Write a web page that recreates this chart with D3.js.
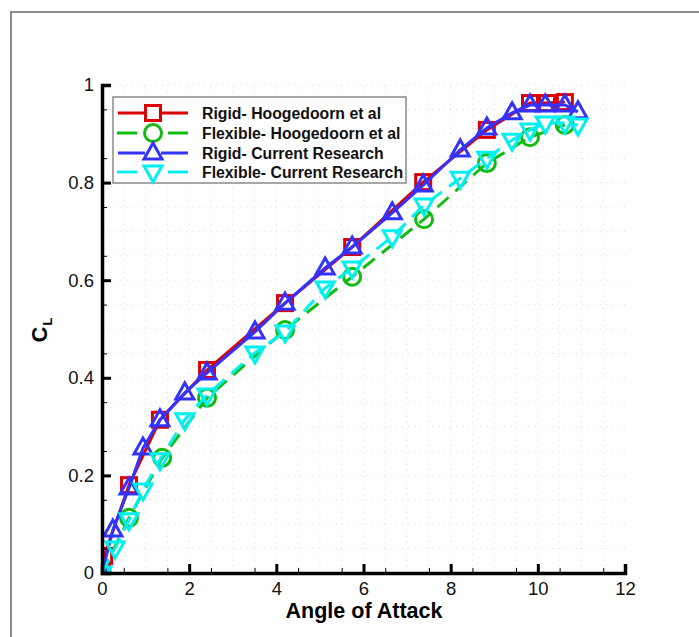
<!DOCTYPE html>
<html>
<head>
<meta charset="utf-8">
<script src="https://cdn.jsdelivr.net/npm/d3@7"></script>
<style>
  body { margin:0; background:#fff; }
  svg text { font-family: Arial, "Liberation Sans", sans-serif; }
</style>
</head>
<body>
<script>
// angle of attack / CL pairs
var rigidHoogX  = [0, 0.05, 0.62, 1.33, 2.41, 4.20, 5.74, 7.37, 8.83, 9.82, 10.21, 10.62];
var rigidHoogY  = [0, 0.035, 0.180, 0.314, 0.416, 0.553, 0.668, 0.801, 0.908, 0.963, 0.963, 0.965];
var flexHoogX   = [0, 0.62, 1.38, 2.41, 4.20, 5.74, 7.39, 8.83, 9.82, 10.62];
var flexHoogY   = [0, 0.113, 0.236, 0.359, 0.498, 0.607, 0.725, 0.840, 0.893, 0.918];
var rigidCurX   = [0, 0.25, 0.62, 0.94, 1.33, 1.90, 2.41, 3.51, 4.20, 5.12, 5.74, 6.66, 7.37, 8.22, 8.83, 9.41, 9.82, 10.17, 10.62, 10.92];
var rigidCurY   = [0, 0.088, 0.174, 0.256, 0.314, 0.369, 0.410, 0.494, 0.553, 0.625, 0.668, 0.738, 0.795, 0.867, 0.912, 0.943, 0.959, 0.959, 0.959, 0.945];
var flexCurX    = [0, 0.30, 0.62, 0.94, 1.33, 1.90, 2.41, 3.51, 4.20, 5.12, 5.74, 6.66, 7.39, 8.22, 8.83, 9.41, 9.82, 10.17, 10.62, 10.92];
var flexCurY    = [0, 0.051, 0.109, 0.170, 0.232, 0.314, 0.365, 0.451, 0.494, 0.584, 0.625, 0.689, 0.754, 0.809, 0.850, 0.887, 0.908, 0.922, 0.922, 0.918];

var seriesNames = ["Rigid- Hoogedoorn et al", "Flexible- Hoogedoorn et al", "Rigid- Current Research", "Flexible- Current Research"];
var xTicks = [0, 2, 4, 6, 8, 10, 12];
var yTicks = [0, 0.2, 0.4, 0.6, 0.8, 1];

var W = 699, H = 637;
var x = d3.scaleLinear().domain([0, 12]).range([102, 625]);
var y = d3.scaleLinear().domain([0, 1]).range([573, 85]);

var svg = d3.select("body").append("svg").attr("width", W).attr("height", H);

// outer frame (runs off the right and bottom edges)
svg.append("rect").attr("x", 11).attr("y", 12).attr("width", 720).attr("height", 660)
  .attr("fill", "none").attr("stroke", "#8a8a8a").attr("stroke-width", 2);

// faint dotted grid at minor tick spacing
var grid = svg.append("g");
d3.range(0.5, 12, 0.5).forEach(function(v) {
  grid.append("line").attr("x1", x(v)).attr("x2", x(v)).attr("y1", y(0)).attr("y2", y(1))
    .attr("stroke", "#dcdcdc").attr("stroke-width", 1).attr("stroke-dasharray", "1,5");
});
d3.range(0.05, 1.001, 0.05).forEach(function(v) {
  grid.append("line").attr("x1", x(0)).attr("x2", x(12)).attr("y1", y(v)).attr("y2", y(v))
    .attr("stroke", "#dcdcdc").attr("stroke-width", 1).attr("stroke-dasharray", "1,5");
});

svg.append("clipPath").attr("id", "clip").append("rect")
  .attr("x", x(0)).attr("y", y(1)).attr("width", x(12) - x(0)).attr("height", y(0) - y(1));

var series = [
  {name: seriesNames[0], xs: rigidHoogX, ys: rigidHoogY, color: "#dd0000", dash: null, marker: "square"},
  {name: seriesNames[1], xs: flexHoogX,  ys: flexHoogY,  color: "#11bb11", dash: "15,9", marker: "circle"},
  {name: seriesNames[2], xs: rigidCurX,  ys: rigidCurY,  color: "#3333ff", dash: null, marker: "up"},
  {name: seriesNames[3], xs: flexCurX,   ys: flexCurY,   color: "#00f0f0", dash: "15,9", marker: "down"}
];

function drawMarker(g, type, cx, cy, color) {
  var m;
  if (type == "square") {
    m = g.append("rect").attr("x", cx - 7.5).attr("y", cy - 7.5).attr("width", 15).attr("height", 15);
  } else if (type == "circle") {
    m = g.append("circle").attr("cx", cx).attr("cy", cy).attr("r", 8.5);
  } else if (type == "up") {
    m = g.append("path").attr("d", "M" + cx + "," + (cy - 10) + "L" + (cx + 9) + "," + (cy + 6) + "L" + (cx - 9) + "," + (cy + 6) + "Z");
  } else {
    m = g.append("path").attr("d", "M" + cx + "," + (cy + 10) + "L" + (cx + 9) + "," + (cy - 6) + "L" + (cx - 9) + "," + (cy - 6) + "Z");
  }
  m.attr("fill", "none").attr("stroke", color).attr("stroke-width", 3);
}

var plot = svg.append("g").attr("clip-path", "url(#clip)");
series.forEach(function(s) {
  var pts = s.xs.map(function(v, i) { return [v, s.ys[i]]; });
  var line = d3.line().x(function(d) { return x(d[0]); }).y(function(d) { return y(d[1]); });
  plot.append("path").datum(pts).attr("d", line).attr("fill", "none")
    .attr("stroke", s.color).attr("stroke-width", 3)
    .attr("stroke-dasharray", s.dash);
  pts.forEach(function(p) { drawMarker(plot, s.marker, x(p[0]), y(p[1]), s.color); });
});

// axes: ticks point inward
var xAxis = svg.append("g").attr("transform", "translate(0," + y(0) + ")");
xAxis.call(d3.axisBottom(x).tickValues(xTicks).tickSize(-9).tickFormat(d3.format("d")));
xAxis.append("g").attr("class", "minor").call(d3.axisBottom(x).tickValues(d3.range(0.5, 12, 1)).tickSize(-5).tickFormat(""));
var yAxis = svg.append("g").attr("transform", "translate(" + x(0) + ",0)");
yAxis.call(d3.axisLeft(y).tickValues(yTicks).tickSize(-9).tickFormat(function(d) { return d === 0 ? "0" : d3.format("~g")(d); }));
yAxis.append("g").attr("class", "minor").call(d3.axisLeft(y).tickValues(d3.range(0.05, 1, 0.1)).tickSize(-5).tickFormat(""));

svg.selectAll(".minor .domain").remove();
svg.selectAll(".domain").attr("stroke", "#000").attr("stroke-width", 3.5);
xAxis.selectAll(".tick line").attr("stroke-width", 3);
yAxis.selectAll(".tick line").attr("stroke-width", 3);
svg.selectAll(".minor .tick line").attr("stroke-width", 1);

xAxis.selectAll(".tick text").attr("font-size", 18.5).attr("fill", "#111").attr("y", 4).attr("dy", "0.95em");
yAxis.selectAll(".tick text").attr("font-size", 18.5).attr("fill", "#111").attr("x", -8);

svg.append("text").attr("x", (x(0) + x(12)) / 2 + 0.5).attr("y", 618).attr("text-anchor", "middle")
  .attr("font-size", 21.5).attr("font-weight", "bold").text("Angle of Attack");

var cl = svg.append("text").attr("transform", "translate(47,330) rotate(-90)")
  .attr("text-anchor", "middle").attr("font-size", 22).attr("font-weight", "bold");
cl.append("tspan").text("C");
cl.append("tspan").attr("font-size", 13).attr("dy", 5).attr("dx", 1).text("L");

// legend
var lg = svg.append("g");
lg.append("rect").attr("x", 113).attr("y", 97).attr("width", 293).attr("height", 86)
  .attr("fill", "#fff").attr("stroke", "#8a8a8a").attr("stroke-width", 1.5);
var rowY = [113, 133, 153, 172];
series.forEach(function(s, i) {
  var cy = rowY[i];
  // dashed series show one dash on each side of the marker
  var l1 = s.dash ? [117, 137] : [118, 145];
  var l2 = s.dash ? [168, 188] : [161, 188];
  lg.append("line").attr("x1", l1[0]).attr("x2", l1[1]).attr("y1", cy).attr("y2", cy)
    .attr("stroke", s.color).attr("stroke-width", 3);
  lg.append("line").attr("x1", l2[0]).attr("x2", l2[1]).attr("y1", cy).attr("y2", cy)
    .attr("stroke", s.color).attr("stroke-width", 3);
  drawMarker(lg, s.marker, 153, cy, s.color);
  lg.append("text").attr("x", 202).attr("y", cy + 5.5).attr("font-size", 15.8).attr("font-weight", "bold")
    .attr("fill", "#111").text(s.name);
});
</script>
</body>
</html>
